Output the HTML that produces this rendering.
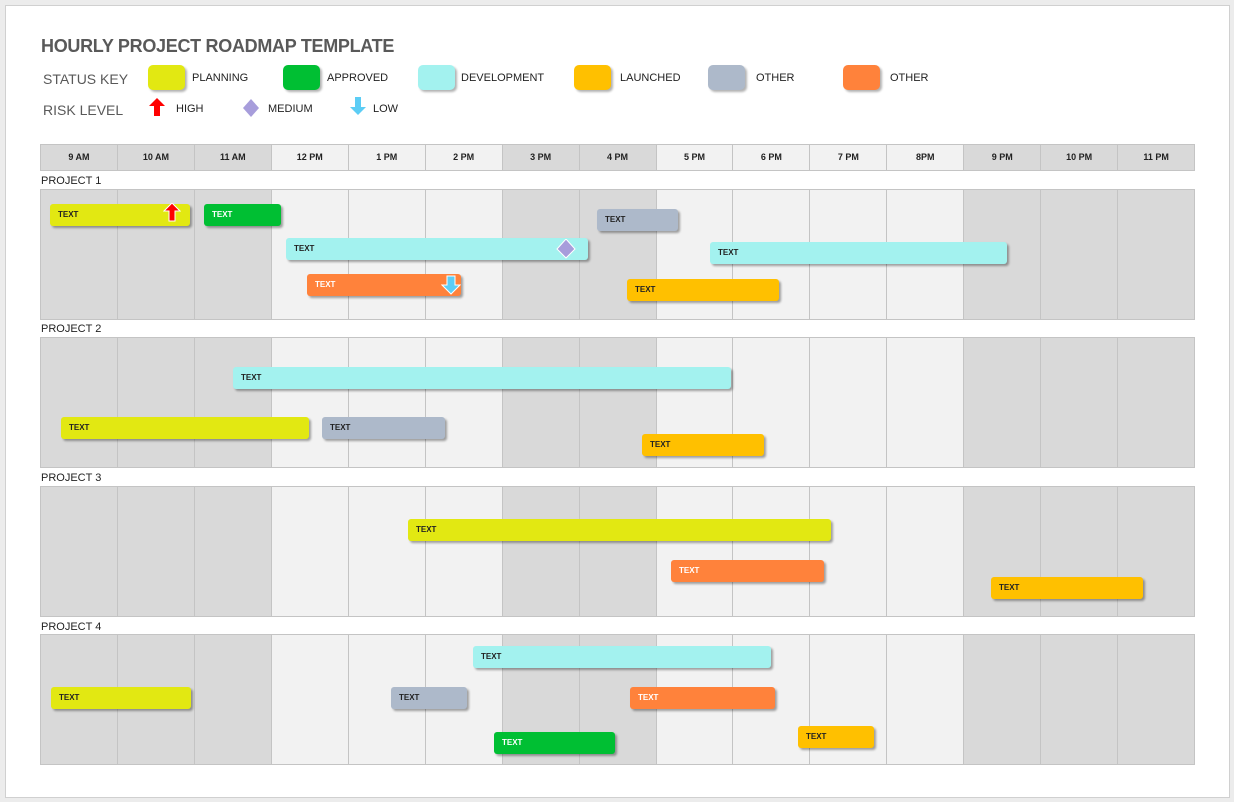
<!DOCTYPE html>
<html><head><meta charset="utf-8"><style>
body{margin:0;width:1234px;height:802px;background:#ececec;font-family:"Liberation Sans",sans-serif;position:relative;overflow:hidden}
.paper{position:absolute;left:5px;top:5px;width:1223px;height:791px;background:#fff;border:1px solid #d0d0d0}
.a{position:absolute}
.title{left:41px;top:36px;font-size:18px;font-weight:bold;color:#595959;letter-spacing:-0.3px}
.lk{font-size:14px;color:#595959}
.sw{position:absolute;width:37px;height:25px;border-radius:5px;top:65px;box-shadow:2px 2px 2px rgba(0,0,0,.3)}
.lt{position:absolute;font-size:11px;color:#222;top:72px}
.grid{position:absolute;left:40px;width:1155px;display:flex;border:1px solid #c4c4c4;box-sizing:border-box}
.grid div{flex:1;border-right:1px solid #c4c4c4;box-sizing:border-box;font-size:9px;font-weight:bold;text-align:center;color:#222}
.grid div:last-child{border-right:none}
.d{background:#d9d9d9}.l{background:#f2f2f2}
.pl{position:absolute;left:41px;font-size:11px;color:#222}
.b{position:absolute;height:22px;border-radius:3px;box-shadow:2px 2px 2px rgba(0,0,0,.35);font-size:8px;font-weight:bold;line-height:22px;padding-left:8px;box-sizing:border-box;color:#222}
.P{background:#e2e812}.A{background:#00bf33;color:#fff}.D{background:#a3f2ef}.L{background:#ffc000}.O{background:#adb9ca}.R{background:#ff823b;color:#fff}
</style></head><body>
<div class="paper"></div>
<div class="a title">HOURLY PROJECT ROADMAP TEMPLATE</div>
<div class="a lk" style="left:43px;top:71px">STATUS KEY</div>
<div class="a lk" style="left:43px;top:102px">RISK LEVEL</div>
<div class="sw P" style="left:148px"></div><div class="lt" style="left:192px">PLANNING</div>
<div class="sw A" style="left:283px"></div><div class="lt" style="left:327px">APPROVED</div>
<div class="sw D" style="left:418px"></div><div class="lt" style="left:461px">DEVELOPMENT</div>
<div class="sw L" style="left:574px"></div><div class="lt" style="left:620px">LAUNCHED</div>
<div class="sw O" style="left:708px"></div><div class="lt" style="left:756px">OTHER</div>
<div class="sw R" style="left:843px"></div><div class="lt" style="left:890px">OTHER</div>
<svg class="a" style="left:148px;top:98px" width="18" height="20"><polygon points="9,0 17,8 12,8 12,18 6,18 6,8 1,8" fill="#f00"/></svg>
<div class="lt" style="left:176px;top:103px">HIGH</div>
<svg class="a" style="left:242px;top:99px" width="18" height="18"><polygon points="9,0 17,9 9,18 1,9" fill="#a79ddb"/></svg>
<div class="lt" style="left:268px;top:103px">MEDIUM</div>
<svg class="a" style="left:349px;top:97px" width="18" height="20"><polygon points="6,0 12,0 12,10 17,10 9,18 1,10 6,10" fill="#5ccdf5"/></svg>
<div class="lt" style="left:373px;top:103px">LOW</div>

<div class="grid" style="top:144px;height:27px;line-height:25px">
<div class="d">9 AM</div><div class="d">10 AM</div><div class="d">11 AM</div><div class="l">12 PM</div><div class="l">1 PM</div><div class="l">2 PM</div><div class="d">3 PM</div><div class="d">4 PM</div><div class="l">5 PM</div><div class="l">6 PM</div><div class="l">7 PM</div><div class="l">8PM</div><div class="d">9 PM</div><div class="d">10 PM</div><div class="d">11 PM</div></div>

<div class="pl" style="top:175px">PROJECT 1</div>
<div class="grid" style="top:189px;height:131px"><div class="d"></div><div class="d"></div><div class="d"></div><div class="l"></div><div class="l"></div><div class="l"></div><div class="d"></div><div class="d"></div><div class="l"></div><div class="l"></div><div class="l"></div><div class="l"></div><div class="d"></div><div class="d"></div><div class="d"></div></div>
<div class="pl" style="top:323px">PROJECT 2</div>
<div class="grid" style="top:337px;height:131px"><div class="d"></div><div class="d"></div><div class="d"></div><div class="l"></div><div class="l"></div><div class="l"></div><div class="d"></div><div class="d"></div><div class="l"></div><div class="l"></div><div class="l"></div><div class="l"></div><div class="d"></div><div class="d"></div><div class="d"></div></div>
<div class="pl" style="top:472px">PROJECT 3</div>
<div class="grid" style="top:486px;height:131px"><div class="d"></div><div class="d"></div><div class="d"></div><div class="l"></div><div class="l"></div><div class="l"></div><div class="d"></div><div class="d"></div><div class="l"></div><div class="l"></div><div class="l"></div><div class="l"></div><div class="d"></div><div class="d"></div><div class="d"></div></div>
<div class="pl" style="top:621px">PROJECT 4</div>
<div class="grid" style="top:634px;height:131px"><div class="d"></div><div class="d"></div><div class="d"></div><div class="l"></div><div class="l"></div><div class="l"></div><div class="d"></div><div class="d"></div><div class="l"></div><div class="l"></div><div class="l"></div><div class="l"></div><div class="d"></div><div class="d"></div><div class="d"></div></div>

<div class="b P" style="left:50px;top:204px;width:140px">TEXT</div>
<svg class="a" style="left:163px;top:203px" width="18" height="20"><polygon points="9,0 17,8 12,8 12,18 6,18 6,8 1,8" fill="#f00" stroke="#fff" stroke-width="1"/></svg>
<div class="b A" style="left:204px;top:204px;width:77px">TEXT</div>
<div class="b O" style="left:597px;top:209px;width:81px">TEXT</div>
<div class="b D" style="left:286px;top:238px;width:302px">TEXT</div>
<svg class="a" style="left:556px;top:239px" width="20" height="20"><polygon points="10,0 19,10 10,19 1,10" fill="#a79ddb" stroke="#fff"/></svg>
<div class="b D" style="left:710px;top:242px;width:297px">TEXT</div>
<div class="b R" style="left:307px;top:274px;width:154px">TEXT</div>
<svg class="a" style="left:441px;top:275px" width="20" height="21"><polygon points="6,1 14,1 14,10 19,10 10,19 1,10 6,10" fill="#5ccdf5" stroke="#fff"/></svg>
<div class="b L" style="left:627px;top:279px;width:152px">TEXT</div>

<div class="b D" style="left:233px;top:367px;width:498px">TEXT</div>
<div class="b P" style="left:61px;top:417px;width:248px">TEXT</div>
<div class="b O" style="left:322px;top:417px;width:123px">TEXT</div>
<div class="b L" style="left:642px;top:434px;width:122px">TEXT</div>

<div class="b P" style="left:408px;top:519px;width:423px">TEXT</div>
<div class="b R" style="left:671px;top:560px;width:153px">TEXT</div>
<div class="b L" style="left:991px;top:577px;width:152px">TEXT</div>

<div class="b D" style="left:473px;top:646px;width:298px">TEXT</div>
<div class="b P" style="left:51px;top:687px;width:140px">TEXT</div>
<div class="b O" style="left:391px;top:687px;width:76px">TEXT</div>
<div class="b R" style="left:630px;top:687px;width:145px">TEXT</div>
<div class="b A" style="left:494px;top:732px;width:121px">TEXT</div>
<div class="b L" style="left:798px;top:726px;width:76px">TEXT</div>
</body></html>
